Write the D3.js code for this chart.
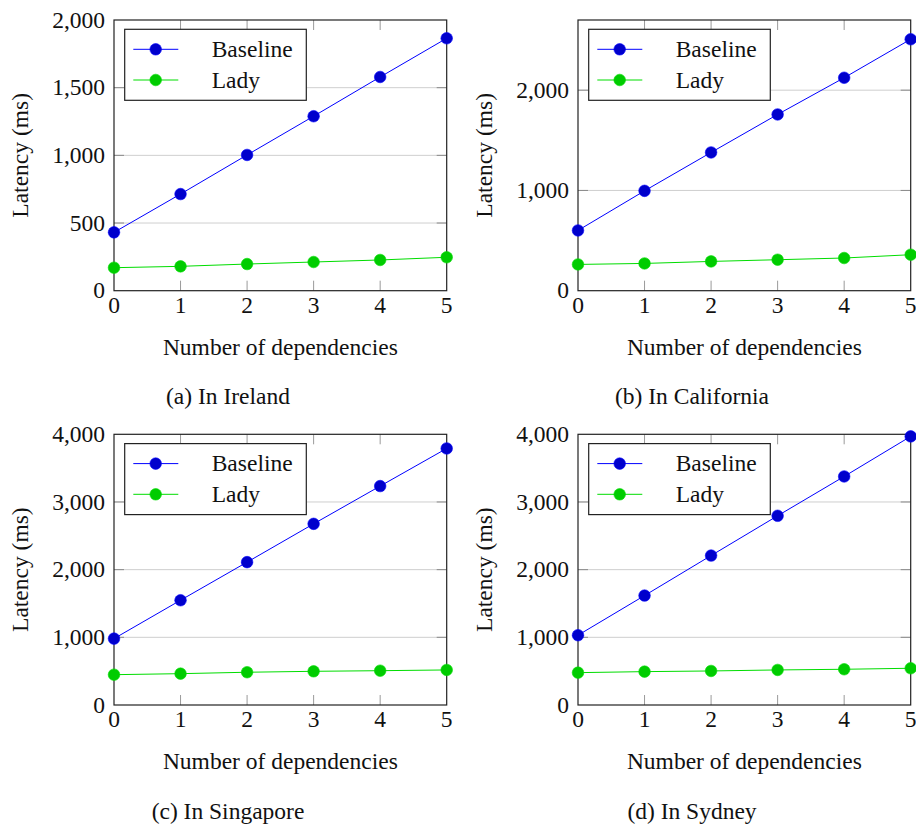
<!DOCTYPE html>
<html>
<head>
<meta charset="utf-8">
<script src="https://cdn.jsdelivr.net/npm/d3@7"></script>
<style>
  body { margin: 0; background: #fff; }
  svg { display: block; }
</style>
</head>
<body>
<div id="chart"></div>
<script>
// number of dependencies on the x axis
const deps = [0, 1, 2, 3, 4, 5];

// latency in ms
const irelandBaseline = [431, 714, 1003, 1289, 1579, 1865];
const irelandLady = [170, 180, 197, 212, 227, 247];

const californiaBaseline = [601, 996, 1379, 1758, 2124, 2508];
const californiaLady = [262, 272, 292, 309, 326, 359];

const singaporeBaseline = [981, 1548, 2111, 2677, 3235, 3791];
const singaporeLady = [448, 463, 484, 498, 507, 518];

const sydneyBaseline = [1031, 1617, 2208, 2796, 3377, 3969];
const sydneyLady = [478, 493, 503, 518, 528, 543];

const captions = ["(a) In Ireland", "(b) In California", "(c) In Singapore", "(d) In Sydney"];
const yMaxes = [2000, 2700, 4000, 4000];
const yTickSets = [
  [0, 500, 1000, 1500, 2000],
  [0, 1000, 2000],
  [0, 1000, 2000, 3000, 4000],
  [0, 1000, 2000, 3000, 4000]
];
const seriesNames = ["Baseline", "Lady"];

const panelsData = [
  [irelandBaseline, irelandLady],
  [californiaBaseline, californiaLady],
  [singaporeBaseline, singaporeLady],
  [sydneyBaseline, sydneyLady]
];

const lineColors = ["#0000ff", "#00dd00"];
const markColors = ["#0000cc", "#00cc00"];

const W = 916, H = 828;
const fontSize = 23.5;
const fontFam = "'Liberation Serif', 'Times New Roman', Times, serif";
const plotW = 332.7, plotH = 270.7;
const origins = [
  { left: 114, top: 20, capX: 228 },
  { left: 578, top: 20, capX: 692 },
  { left: 114, top: 434.3, capX: 228 },
  { left: 578, top: 434.3, capX: 692 }
];

const svg = d3.select("#chart").append("svg")
  .attr("width", W)
  .attr("height", H)
  .attr("font-family", fontFam);

const fmt = d3.format(",");

function label(sel) {
  return sel.attr("font-family", fontFam)
    .attr("font-size", fontSize)
    .attr("fill", "#111");
}

panelsData.forEach(function(series, i) {
  const o = origins[i];

  const x = d3.scaleLinear().domain([0, 5]).range([0, plotW]);
  const y = d3.scaleLinear().domain([0, yMaxes[i]]).range([plotH, 0]);

  const g = svg.append("g")
    .attr("transform", "translate(" + o.left + "," + o.top + ")");

  const inner = yTickSets[i].filter(function(t) { return t > 0 && t < yMaxes[i]; });

  // horizontal grid
  g.append("g")
    .selectAll("line")
    .data(inner)
    .enter().append("line")
    .attr("x1", 0).attr("x2", plotW)
    .attr("y1", function(d) { return y(d); })
    .attr("y2", function(d) { return y(d); })
    .attr("stroke", "#cfcfcf")
    .attr("stroke-width", 1);

  // y ticks, inside on both sides
  [0, plotW].forEach(function(edge) {
    g.append("g").selectAll("line")
      .data(inner)
      .enter().append("line")
      .attr("x1", edge).attr("x2", edge === 0 ? 10 : plotW - 10)
      .attr("y1", function(d) { return y(d); })
      .attr("y2", function(d) { return y(d); })
      .attr("stroke", "#8a8a8a")
      .attr("stroke-width", 1);
  });

  // x ticks, inside at bottom and top
  [plotH, 0].forEach(function(edge) {
    g.append("g").selectAll("line")
      .data(deps.slice(1, -1))
      .enter().append("line")
      .attr("x1", function(d) { return x(d); })
      .attr("x2", function(d) { return x(d); })
      .attr("y1", edge).attr("y2", edge === 0 ? 10 : plotH - 10)
      .attr("stroke", "#9a9a9a")
      .attr("stroke-width", 1);
  });

  // frame
  g.append("rect")
    .attr("width", plotW)
    .attr("height", plotH)
    .attr("fill", "none")
    .attr("stroke", "#222")
    .attr("stroke-width", 1.2);

  // tick labels
  g.append("g").selectAll("text")
    .data(deps)
    .enter().append("text")
    .call(label)
    .attr("x", function(d) { return x(d); })
    .attr("y", plotH + 22)
    .attr("text-anchor", "middle")
    .text(function(d) { return d; });

  g.append("g").selectAll("text")
    .data(yTickSets[i])
    .enter().append("text")
    .call(label)
    .attr("x", -9)
    .attr("y", function(d) { return y(d) + 7.7; })
    .attr("text-anchor", "end")
    .text(function(d) { return fmt(d); });

  // axis labels
  g.append("text")
    .call(label)
    .attr("x", plotW / 2)
    .attr("y", plotH + 64.5)
    .attr("text-anchor", "middle")
    .text("Number of dependencies");

  g.append("text")
    .call(label)
    .attr("transform", "translate(-86," + (plotH / 2) + ") rotate(-90)")
    .attr("text-anchor", "middle")
    .text("Latency (ms)");

  // caption
  svg.append("text")
    .call(label)
    .attr("x", o.capX)
    .attr("y", o.top + plotH + 113.5)
    .attr("text-anchor", "middle")
    .text(captions[i]);

  // lines and markers
  const line = d3.line()
    .x(function(d, j) { return x(deps[j]); })
    .y(function(d) { return y(d); });

  series.forEach(function(vals, s) {
    g.append("path")
      .datum(vals)
      .attr("d", line)
      .attr("fill", "none")
      .attr("stroke", lineColors[s])
      .attr("stroke-width", 1);

    g.append("g").selectAll("circle")
      .data(vals)
      .enter().append("circle")
      .attr("cx", function(d, j) { return x(deps[j]); })
      .attr("cy", function(d) { return y(d); })
      .attr("r", 5.8)
      .attr("fill", markColors[s])
      .attr("stroke", lineColors[s])
      .attr("stroke-width", 0.6);
  });

  // legend
  const leg = g.append("g").attr("transform", "translate(10.7,9.3)");
  leg.append("rect")
    .attr("width", 181.6)
    .attr("height", 71)
    .attr("fill", "#fff")
    .attr("stroke", "#222")
    .attr("stroke-width", 1.2);

  seriesNames.forEach(function(name, s) {
    const ry = 20 + s * 30.7;
    leg.append("line")
      .attr("x1", 8.6).attr("x2", 53.6)
      .attr("y1", ry).attr("y2", ry)
      .attr("stroke", lineColors[s])
      .attr("stroke-width", 1);
    leg.append("circle")
      .attr("cx", 31)
      .attr("cy", ry)
      .attr("r", 5.8)
      .attr("fill", markColors[s])
      .attr("stroke", lineColors[s])
      .attr("stroke-width", 0.6);
    leg.append("text")
      .call(label)
      .attr("x", 87)
      .attr("y", ry + 7.7)
      .text(name);
  });
});
</script>
</body>
</html>
